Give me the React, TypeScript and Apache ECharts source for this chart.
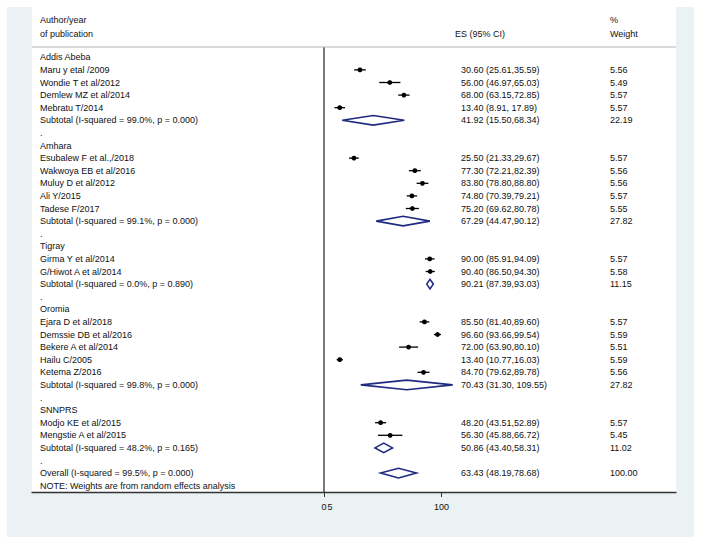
import React, { useEffect, useRef } from "react";
import * as echarts from "echarts";

// ---------- data ----------
const regions = ["Addis Abeba", "Amhara", "Tigray", "Oromia", "SNNPRS"];

const studyRegion = [0, 0, 0, 0, 1, 1, 1, 1, 1, 2, 2, 3, 3, 3, 3, 3, 4, 4];
const studyLabels = [
  "Maru y etal /2009",
  "Wondie T et al/2012",
  "Demlew MZ et al/2014",
  "Mebratu T/2014",
  "Esubalew F et al.,/2018",
  "Wakwoya EB et al/2016",
  "Muluy D et al/2012",
  "Ali Y/2015",
  "Tadese F/2017",
  "Girma Y et al/2014",
  "G/Hiwot A et al/2014",
  "Ejara D et al/2018",
  "Demssie DB et al/2016",
  "Bekere A et al/2014",
  "Hailu C/2005",
  "Ketema Z/2016",
  "Modjo KE et al/2015",
  "Mengstie A et al/2015",
];
const studyES = [30.6, 56.0, 68.0, 13.4, 25.5, 77.3, 83.8, 74.8, 75.2, 90.0, 90.4, 85.5, 96.6, 72.0, 13.4, 84.7, 48.2, 56.3];
const studyLo = [25.61, 46.97, 63.15, 8.91, 21.33, 72.21, 78.8, 70.39, 69.62, 85.91, 86.5, 81.4, 93.66, 63.9, 10.77, 79.62, 43.51, 45.88];
const studyHi = [35.59, 65.03, 72.85, 17.89, 29.67, 82.39, 88.8, 79.21, 80.78, 94.09, 94.3, 89.6, 99.54, 80.1, 16.03, 89.78, 52.89, 66.72];
const studyWeight = [5.56, 5.49, 5.57, 5.57, 5.57, 5.56, 5.56, 5.57, 5.55, 5.57, 5.58, 5.57, 5.59, 5.51, 5.59, 5.56, 5.57, 5.45];

const subtotalI2 = [99.0, 99.1, 0.0, 99.8, 48.2];
const subtotalP = [0.0, 0.0, 0.89, 0.0, 0.165];
const subtotalES = [41.92, 67.29, 90.21, 70.43, 50.86];
const subtotalLo = [15.5, 44.47, 87.39, 31.3, 43.4];
const subtotalHi = [68.34, 90.12, 93.03, 109.55, 58.31];
const subtotalWeight = [22.19, 27.82, 11.15, 27.82, 11.02];

const overallI2 = 99.5;
const overallP = 0.0;
const overallES = 63.43;
const overallLo = 48.19;
const overallHi = 78.68;
const overallWeight = 100.0;

const noteText = "NOTE: Weights are from random effects analysis";
const tickValues = [0, 100];
const tickLabelValues = [0, 5, 100];

// ---------- rows ----------
type Row = {
  kind: "group" | "study" | "subtotal" | "blank" | "overall" | "note";
  label: string;
  es?: number;
  lo?: number;
  hi?: number;
  w?: number;
};

const fmtCI = (es: number, lo: number, hi: number) => {
  const sep = lo < 10 || hi >= 100 ? ", " : ",";
  return `${es.toFixed(2)} (${lo.toFixed(2)}${sep}${hi.toFixed(2)})`;
};

const rows: Row[] = [];
regions.forEach((reg, g) => {
  rows.push({ kind: "group", label: reg });
  studyLabels.forEach((name, s) => {
    if (studyRegion[s] === g) {
      rows.push({ kind: "study", label: name, es: studyES[s], lo: studyLo[s], hi: studyHi[s], w: studyWeight[s] });
    }
  });
  rows.push({
    kind: "subtotal",
    label: `Subtotal (I-squared = ${subtotalI2[g].toFixed(1)}%, p = ${subtotalP[g].toFixed(3)})`,
    es: subtotalES[g],
    lo: subtotalLo[g],
    hi: subtotalHi[g],
    w: subtotalWeight[g],
  });
  rows.push({ kind: "blank", label: "." });
});
rows.push({
  kind: "overall",
  label: `Overall (I-squared = ${overallI2.toFixed(1)}%, p = ${overallP.toFixed(3)})`,
  es: overallES,
  lo: overallLo,
  hi: overallHi,
  w: overallWeight,
});
rows.push({ kind: "note", label: noteText });

// ---------- layout ----------
const W = 702;
const H = 545;
const FONT = '"Liberation Sans", Arial, Helvetica, sans-serif';
const FS = 9;
const TXT = "#111111";
const NAVY = "#1f2a80";
const gridLeft = 32;
const gridRightPx = 676;
const gridTop = 51;
const gridBottomPx = 492;
const zeroPx = 324;
const pxPerUnit = 1.175;
const xMin = (gridLeft - zeroPx) / pxPerUnit;
const xMax = (gridRightPx - zeroPx) / pxPerUnit;
const colES = 429;
const colW = 578;

export default function App() {
  const ref = useRef<HTMLDivElement>(null);
  useEffect(() => {
    if (!ref.current) return;
    const chart = echarts.init(ref.current, undefined, { renderer: "svg" });

    const textStyle = (t: string, align = "left") => ({
      text: t,
      fill: TXT,
      fontSize: FS,
      fontFamily: FONT,
      align,
      verticalAlign: "middle",
    });

    const studyData: number[][] = [];
    const diamondData: number[][] = [];
    rows.forEach((r, i) => {
      if (r.kind === "study") studyData.push([r.es as number, r.lo as number, r.hi as number, i]);
      if (r.kind === "subtotal" || r.kind === "overall") diamondData.push([r.es as number, r.lo as number, r.hi as number, i]);
    });

    const option: any = {
      animation: false,
      backgroundColor: "#ffffff",
      textStyle: { fontFamily: FONT },
      graphic: [
        { type: "rect", z: -20, silent: true, shape: { x: 7, y: 7, width: 687, height: 530 }, style: { fill: "#EAF2F3" } },
        { type: "rect", z: -19, silent: true, shape: { x: gridLeft, y: 7, width: gridRightPx - gridLeft, height: gridBottomPx - 7 }, style: { fill: "#ffffff" } },
        { type: "line", z: 5, silent: true, shape: { x1: gridLeft, y1: 47, x2: gridRightPx, y2: 47 }, style: { stroke: "#b4b4b4", lineWidth: 1 } },
        { type: "text", z: 5, x: gridLeft + 8, y: 20, style: textStyle("Author/year") },
        { type: "text", z: 5, x: gridLeft + 8, y: 34, style: textStyle("of publication") },
        { type: "text", z: 5, x: 455, y: 34, style: textStyle("ES (95% CI)") },
        { type: "text", z: 5, x: gridLeft + colW, y: 20, style: textStyle("%") },
        { type: "text", z: 5, x: gridLeft + colW, y: 34, style: textStyle("Weight") },
      ],
      grid: {
        left: gridLeft,
        top: gridTop,
        width: gridRightPx - gridLeft,
        height: gridBottomPx - gridTop,
        containLabel: false,
      },
      xAxis: {
        type: "value",
        min: xMin,
        max: xMax,
        axisLine: { show: true, onZero: false, lineStyle: { color: "#333333", width: 1.3 } },
        axisTick: { show: true, customValues: tickValues, length: 5, lineStyle: { color: "#333333", width: 1 } },
        axisLabel: { customValues: tickLabelValues, color: TXT, fontSize: FS, fontFamily: FONT, margin: 10 },
        splitLine: { show: false },
      },
      yAxis: {
        type: "category",
        inverse: true,
        data: rows.map((_, i) => String(i)),
        show: false,
      },
      series: [
        {
          type: "custom",
          name: "null line",
          clip: false,
          data: [[0, 0]],
          encode: { x: 0, y: 1 },
          renderItem: (params: any, api: any) => {
            const cs = params.coordSys;
            const x = api.coord([api.value(0), 0])[0];
            return {
              type: "line",
              shape: { x1: x, y1: cs.y - 4, x2: x, y2: cs.y + cs.height },
              style: { stroke: "#333333", lineWidth: 1.3 },
            };
          },
        },
        {
          type: "custom",
          name: "table",
          clip: false,
          data: rows.map((_, i) => [0, i]),
          encode: { x: 0, y: 1 },
          renderItem: (params: any, api: any) => {
            const i = api.value(1);
            const r = rows[i];
            const cs = params.coordSys;
            const y = api.coord([0, i])[1];
            const children: any[] = [{ type: "text", x: cs.x + 8, y, style: textStyle(r.label) }];
            if (r.es !== undefined) {
              children.push({ type: "text", x: cs.x + colES, y, style: textStyle(fmtCI(r.es, r.lo as number, r.hi as number)) });
              children.push({ type: "text", x: cs.x + colW, y, style: textStyle((r.w as number).toFixed(2)) });
            }
            return { type: "group", children };
          },
        },
        {
          type: "custom",
          name: "studies",
          clip: false,
          data: studyData,
          encode: { x: [0, 1, 2], y: 3 },
          renderItem: (params: any, api: any) => {
            const row = api.value(3);
            const pe = api.coord([api.value(0), row]);
            const pl = api.coord([api.value(1), row]);
            const ph = api.coord([api.value(2), row]);
            return {
              type: "group",
              children: [
                { type: "line", shape: { x1: pl[0], y1: pl[1], x2: ph[0], y2: ph[1] }, style: { stroke: "#000000", lineWidth: 1.3 } },
                { type: "circle", shape: { cx: pe[0], cy: pe[1], r: 2.4 }, style: { fill: "#000000" } },
              ],
            };
          },
        },
        {
          type: "custom",
          name: "pooled",
          clip: false,
          data: diamondData,
          encode: { x: [0, 1, 2], y: 3 },
          renderItem: (params: any, api: any) => {
            const row = api.value(3);
            const pe = api.coord([api.value(0), row]);
            const pl = api.coord([api.value(1), row]);
            const ph = api.coord([api.value(2), row]);
            const h = 4.8;
            return {
              type: "polygon",
              shape: { points: [[pl[0], pl[1]], [pe[0], pe[1] - h], [ph[0], ph[1]], [pe[0], pe[1] + h]] },
              style: { fill: "none", stroke: NAVY, lineWidth: 1.6 },
            };
          },
        },
      ],
    };
    chart.setOption(option);
    return () => chart.dispose();
  }, []);

  return <div ref={ref} style={{ position: "absolute", left: 0, top: 0, width: W, height: H }} />;
}
